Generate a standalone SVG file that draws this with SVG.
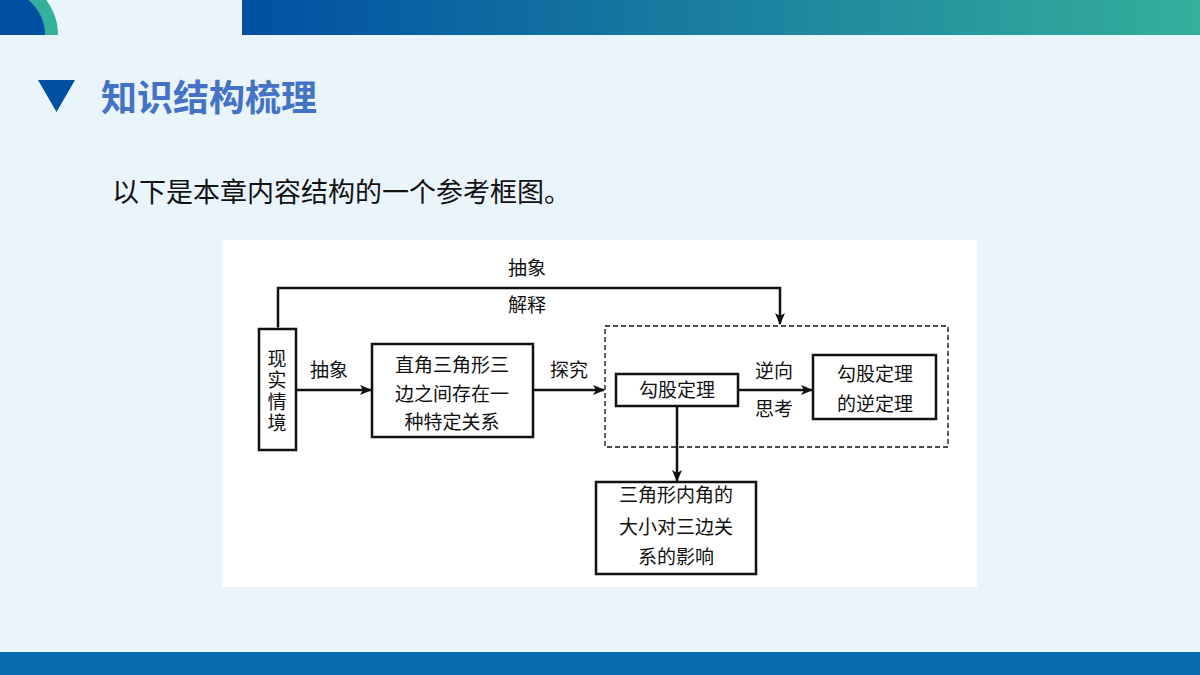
<svg xmlns="http://www.w3.org/2000/svg" width="1200" height="675" viewBox="0 0 1200 675">
<defs>
<linearGradient id="tb" x1="0" x2="1" y1="0" y2="0"><stop offset="0" stop-color="#0050a2"/><stop offset="1" stop-color="#34b09c"/></linearGradient>
<marker id="ah" markerWidth="12" markerHeight="10" refX="11" refY="5" orient="auto" markerUnits="userSpaceOnUse"><path d="M0,0 L12,5 L0,10 L3,5 Z" fill="#111"/></marker>
<style>
.cn{font-family:"Liberation Serif","Noto Sans CJK SC",serif;font-size:19px;fill:#111;text-anchor:middle}
.bx{fill:#fff;stroke:#111;stroke-width:2.5}
.ln{fill:none;stroke:#111;stroke-width:2.5}
</style>
</defs>
<rect width="1200" height="675" fill="#eaf4fb"/>
<rect x="242" y="0" width="958" height="35" fill="url(#tb)"/>
<path d="M0,35 L58,35 A58,58 0 0 0 0,-23 Z" fill="#34b09c"/>
<path d="M0,35 L45,35 A45,45 0 0 0 0,-10 Z" fill="#0050a2"/>
<rect x="0" y="652" width="1200" height="23" fill="#0a6cb0"/>
<polygon points="38,80 75,80 56.5,112" fill="#0050a2"/>
<text x="101" y="111" font-family="'Noto Sans CJK SC',sans-serif" font-weight="bold" font-size="36" fill="#4472c4">知识结构梳理</text>
<text x="112" y="202" font-family="'Noto Sans CJK SC',sans-serif" font-size="27" fill="#111">以下是本章内容结构的一个参考框图。</text>
<rect x="222" y="240" width="755" height="347" fill="#fff"/>
<g id="connectors">
<path class="ln" d="M278,327 V288 H780 V324" marker-start="url(#ah)" marker-end="url(#ah)"/>
<line class="ln" x1="296" y1="390" x2="371" y2="390" marker-end="url(#ah)"/>
<line class="ln" x1="533" y1="390" x2="604" y2="390" marker-end="url(#ah)"/>
<line class="ln" x1="738" y1="390" x2="812" y2="390" marker-end="url(#ah)"/>
<line class="ln" x1="677" y1="406" x2="677" y2="481" marker-end="url(#ah)"/>
<text class="cn" x="527" y="275">抽象</text>
<text class="cn" x="527" y="312">解释</text>
<text class="cn" x="329" y="377">抽象</text>
<text class="cn" x="569" y="377">探究</text>
<text class="cn" x="774" y="378">逆向</text>
<text class="cn" x="774" y="416">思考</text>
</g>
<g id="dashed"><rect x="605" y="326" width="343" height="121" fill="none" stroke="#111" stroke-width="1.3" stroke-dasharray="5,3"/></g>
<g id="n1"><rect class="bx" x="259" y="329" width="37" height="121"/>
<text class="cn" x="277" y="366">现</text><text class="cn" x="277" y="387">实</text><text class="cn" x="277" y="409">情</text><text class="cn" x="277" y="430">境</text></g>
<g id="n2"><rect class="bx" x="372" y="344" width="161" height="93"/>
<text class="cn" x="452" y="372">直角三角形三</text><text class="cn" x="452" y="401">边之间存在一</text><text class="cn" x="452" y="429">种特定关系</text></g>
<g id="n3"><rect class="bx" x="616" y="374" width="122" height="32"/><text class="cn" x="677" y="397">勾股定理</text></g>
<g id="n4"><rect class="bx" x="813" y="355" width="123" height="64"/>
<text class="cn" x="875" y="381">勾股定理</text><text class="cn" x="875" y="411">的逆定理</text></g>
<g id="n5"><rect class="bx" x="596" y="482" width="160" height="92"/>
<text class="cn" x="676" y="502">三角形内角的</text><text class="cn" x="676" y="534">大小对三边关</text><text class="cn" x="676" y="564">系的影响</text></g>
</svg>
